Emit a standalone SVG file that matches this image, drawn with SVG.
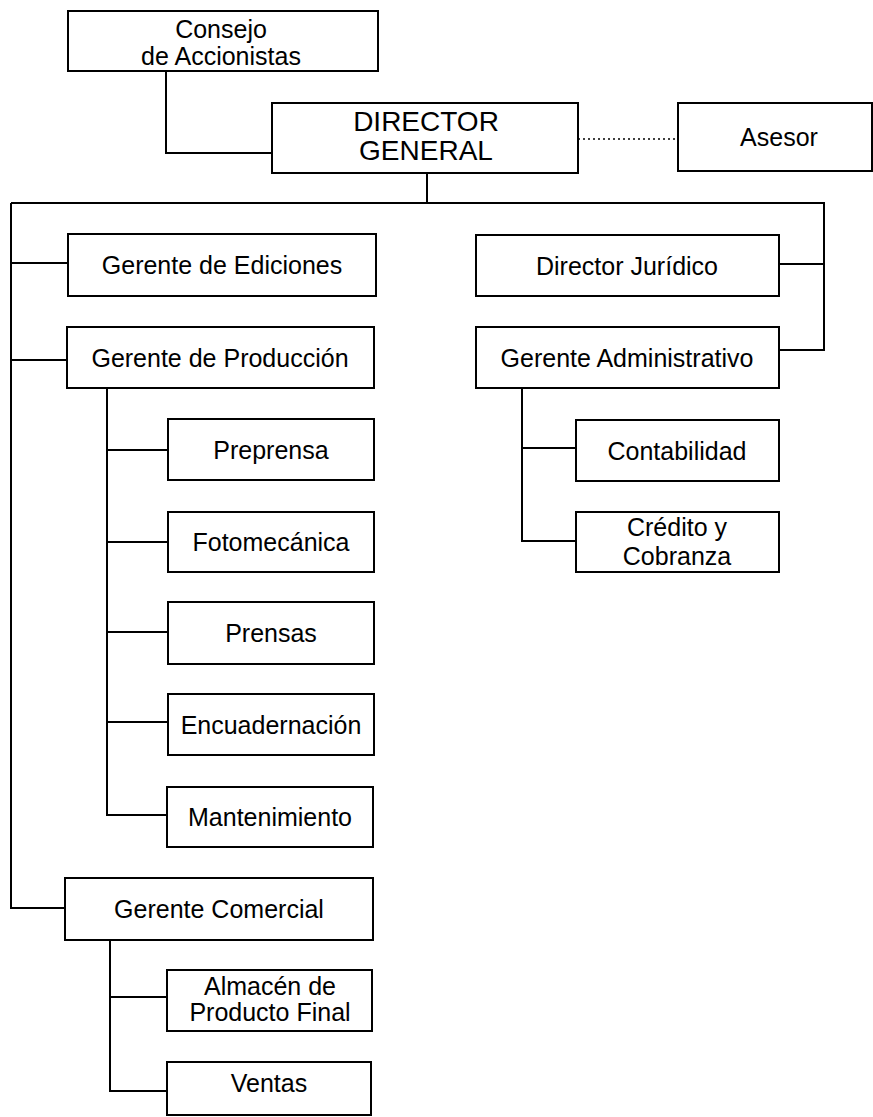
<svg xmlns="http://www.w3.org/2000/svg" width="873" height="1117" viewBox="0 0 873 1117">
<style>
.box{fill:#fff;stroke:#000;stroke-width:2}
.t{font-family:"Liberation Sans",Arial,sans-serif;font-size:25px;fill:#000;text-anchor:middle}
.big{font-size:28px}
.c{fill:none;stroke:#000;stroke-width:2}
.dot{fill:none;stroke:#000;stroke-width:1.5;stroke-dasharray:2 3}
</style>
<rect width="873" height="1117" fill="#fff"/>
<g id="connectors">
<path class="c" d="M166,71 V153 H272"/>
<path class="c" d="M427,173 V203"/>
<path class="c" d="M11,203 H824 V350 H779"/>
<path class="c" d="M779,264 H824"/>
<path class="c" d="M11,203 V908 H65"/>
<path class="c" d="M11,263 H68"/>
<path class="c" d="M11,360 H67"/>
<path class="c" d="M107,388 V815 H167"/>
<path class="c" d="M107,450 H168 M107,542 H168 M107,632 H168 M107,722 H168"/>
<path class="c" d="M110,940 V1091 H167"/>
<path class="c" d="M110,997 H167"/>
<path class="c" d="M522,388 V541 H576"/>
<path class="c" d="M522,448 H576"/>
<path class="dot" d="M578,139 H678"/>
</g>
<g id="consejo"><rect class="box" x="68" y="11" width="310" height="60"/><text class="t" x="221" y="38">Consejo</text><text class="t" x="221" y="65">de Accionistas</text></g>
<g id="director-general"><rect class="box" x="272" y="103" width="306" height="70"/><text class="t big" x="426" y="131">DIRECTOR</text><text class="t big" x="426" y="160">GENERAL</text></g>
<g id="asesor"><rect class="box" x="678" y="103" width="194" height="68"/><text class="t" x="779" y="146">Asesor</text></g>
<g id="ediciones"><rect class="box" x="68" y="234" width="308" height="62"/><text class="t" x="222" y="274">Gerente de Ediciones</text></g>
<g id="produccion"><rect class="box" x="67" y="327" width="307" height="61"/><text class="t" x="220" y="367">Gerente de Producción</text></g>
<g id="juridico"><rect class="box" x="476" y="235" width="303" height="61"/><text class="t" x="627" y="275">Director Jurídico</text></g>
<g id="administrativo"><rect class="box" x="476" y="327" width="303" height="61"/><text class="t" x="627" y="367">Gerente Administrativo</text></g>
<g id="contabilidad"><rect class="box" x="576" y="420" width="203" height="61"/><text class="t" x="677" y="460">Contabilidad</text></g>
<g id="credito"><rect class="box" x="576" y="512" width="203" height="60"/><text class="t" x="677" y="536">Crédito y</text><text class="t" x="677" y="565">Cobranza</text></g>
<g id="preprensa"><rect class="box" x="168" y="419" width="206" height="61"/><text class="t" x="271" y="459">Preprensa</text></g>
<g id="fotomecanica"><rect class="box" x="168" y="512" width="206" height="60"/><text class="t" x="271" y="551">Fotomecánica</text></g>
<g id="prensas"><rect class="box" x="168" y="602" width="206" height="62"/><text class="t" x="271" y="642">Prensas</text></g>
<g id="encuadernacion"><rect class="box" x="168" y="694" width="206" height="61"/><text class="t" x="271" y="734">Encuadernación</text></g>
<g id="mantenimiento"><rect class="box" x="167" y="787" width="206" height="60"/><text class="t" x="270" y="826">Mantenimiento</text></g>
<g id="comercial"><rect class="box" x="65" y="878" width="308" height="62"/><text class="t" x="219" y="918">Gerente Comercial</text></g>
<g id="almacen"><rect class="box" x="167" y="970" width="205" height="61"/><text class="t" x="270" y="995">Almacén de</text><text class="t" x="270" y="1021">Producto Final</text></g>
<g id="ventas"><rect class="box" x="167" y="1062" width="204" height="53"/><text class="t" x="269" y="1092">Ventas</text></g>
</svg>
